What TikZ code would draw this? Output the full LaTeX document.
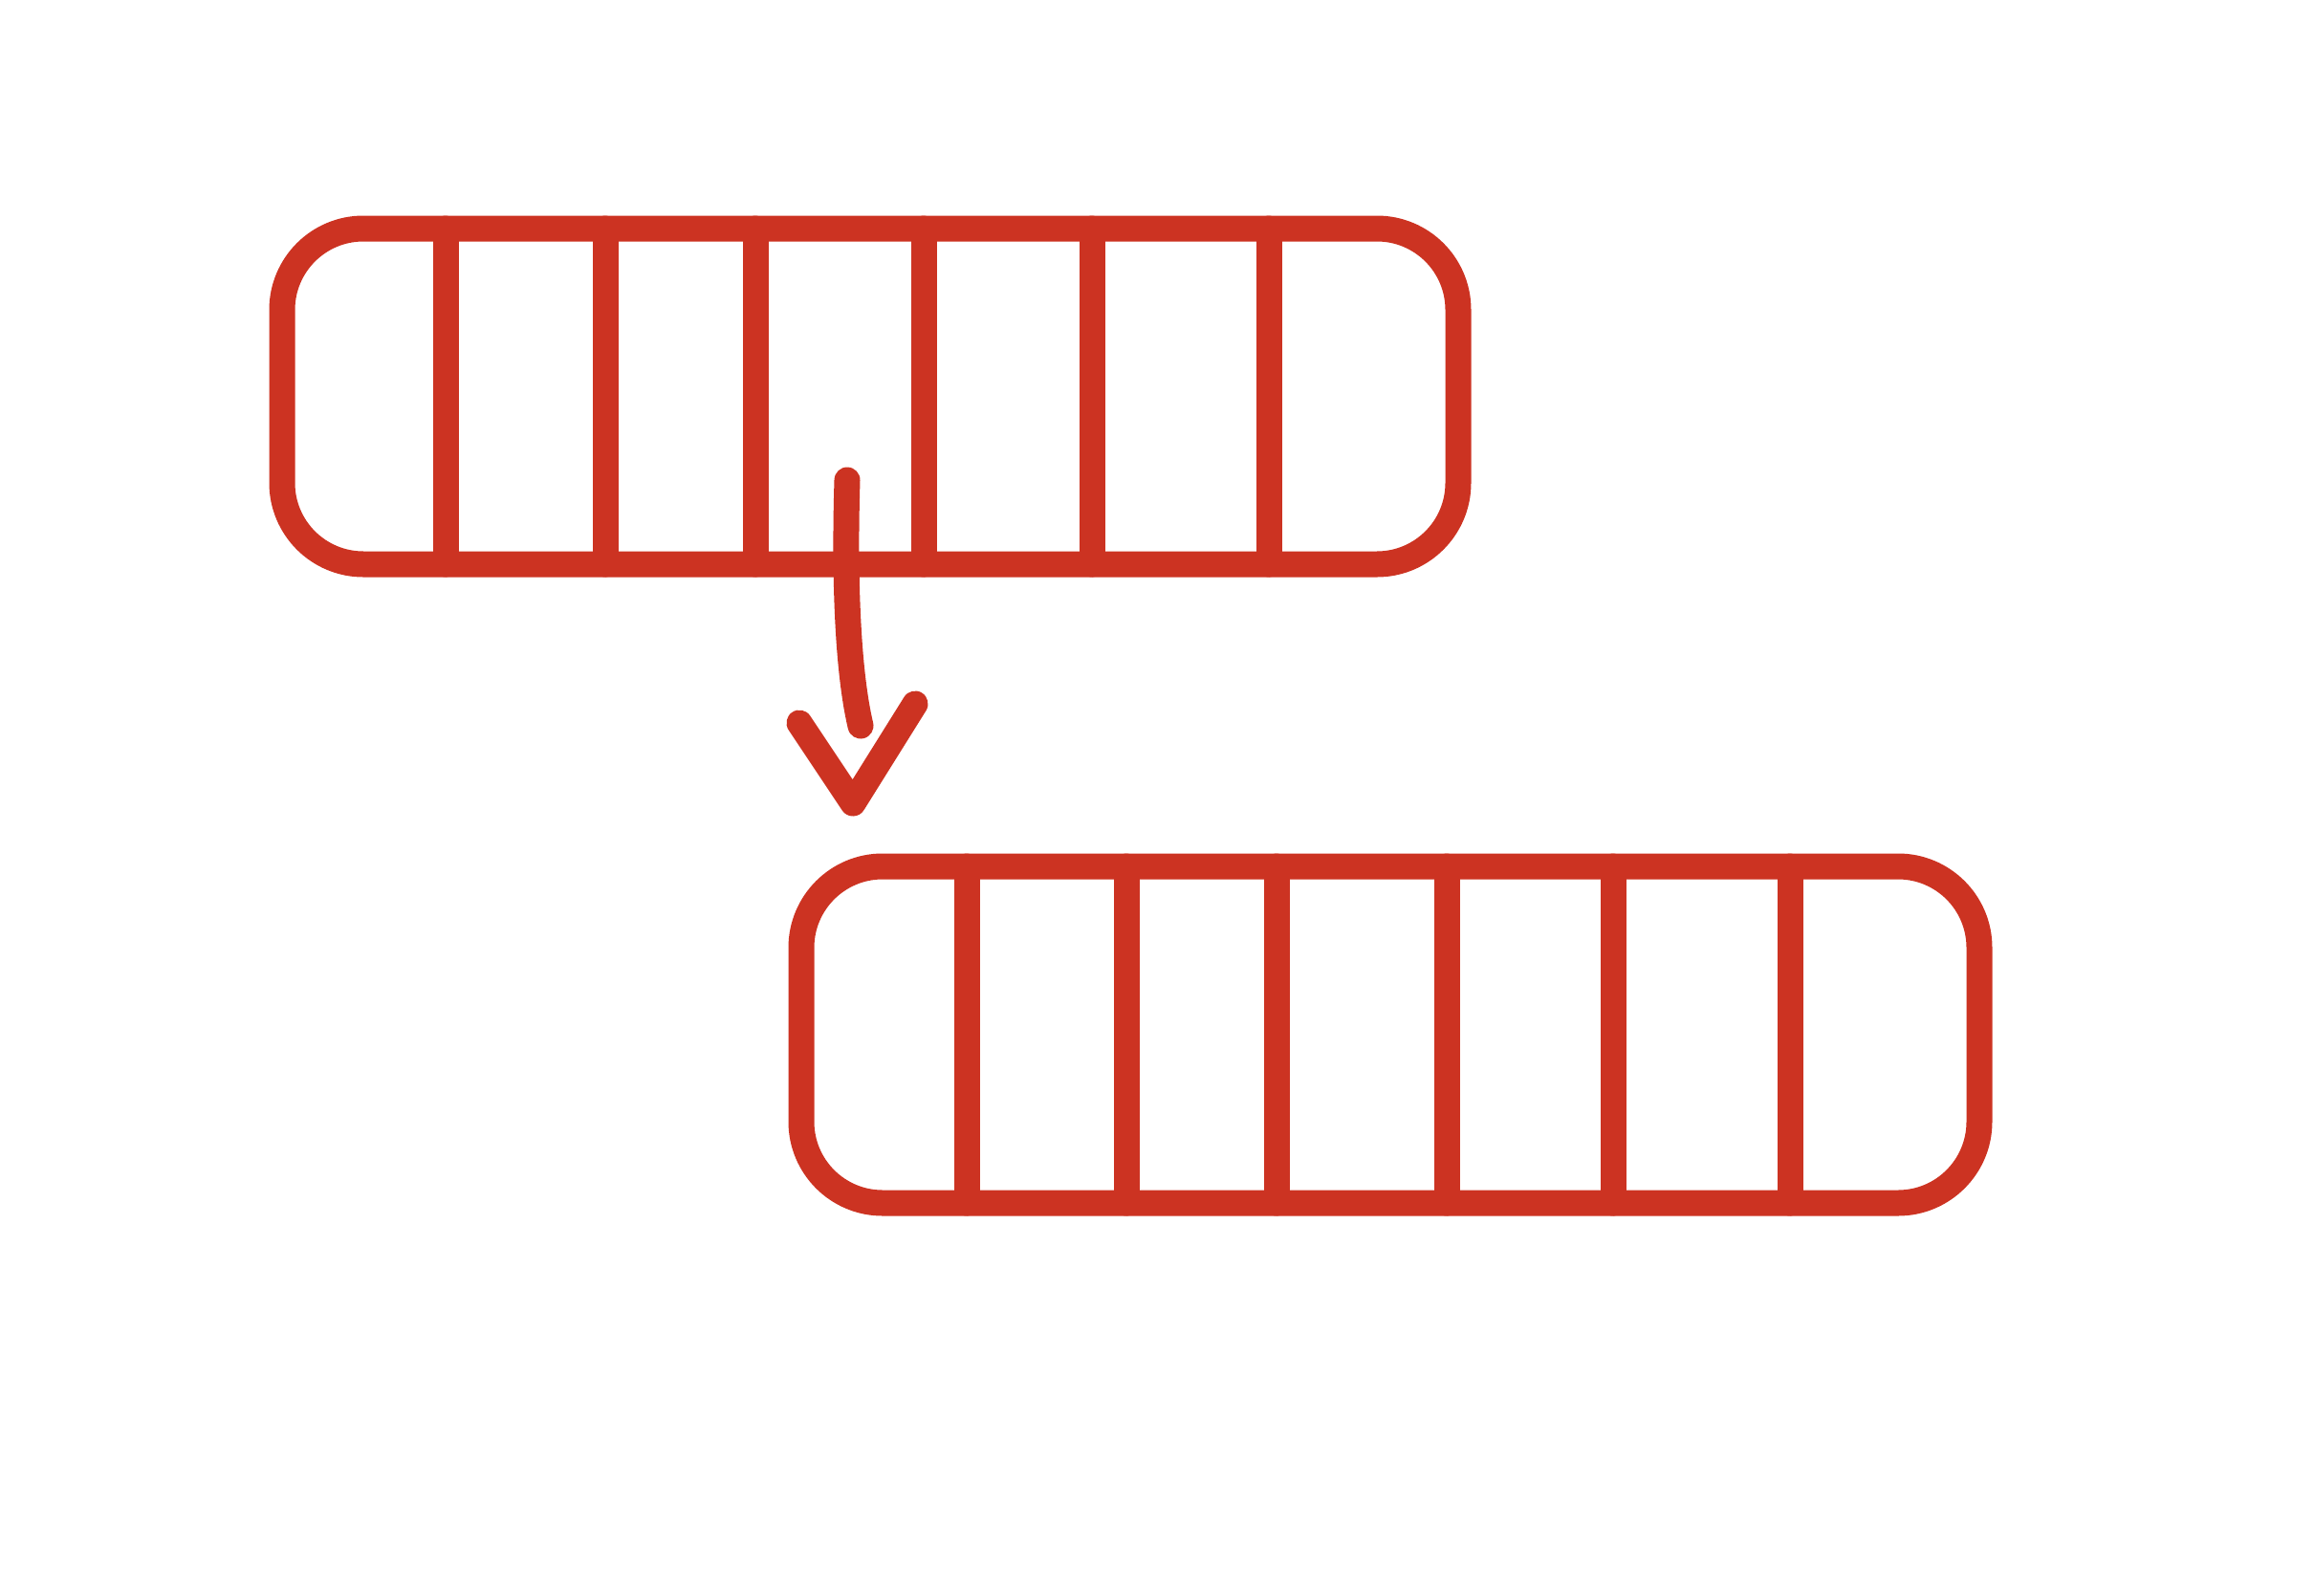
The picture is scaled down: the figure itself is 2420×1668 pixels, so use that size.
\documentclass[tikz,border=0pt]{standalone}
\definecolor{pen}{HTML}{CC3322}
\begin{document}
\begin{tikzpicture}[x=1pt,y=-1pt,
  stroke/.style={draw=pen,line width=27pt,line cap=round,line join=round},
  strip/.style={stroke,rectangle,rounded corners=85pt,inner sep=0pt}]
\useasboundingbox (0,0) rectangle (2420,1668);
% top strip
\node[strip,minimum width=1230pt,minimum height=351pt] (top) at (910,414.5) {};
\foreach \x in {466,633,790,966,1142,1327}
  \draw[stroke] (\x,239) -- (\x,590);
% bottom strip
\node[strip,minimum width=1232pt,minimum height=352pt] (bot) at (1454,1082) {};
\foreach \x in {1011,1178,1335,1513,1687,1872}
  \draw[stroke] (\x,906) -- (\x,1258);
% arrow
\coordinate (a1) at (886,502);
\coordinate (a2) at (900,759);
\coordinate (hl) at (836,756);
\coordinate (hp) at (892,840);
\coordinate (hr) at (957,736);
\draw[stroke] (a1) .. controls (883,600) and (886,700) .. (a2);
\draw[stroke] (hl) -- (hp) -- (hr);
\end{tikzpicture}
\end{document}
